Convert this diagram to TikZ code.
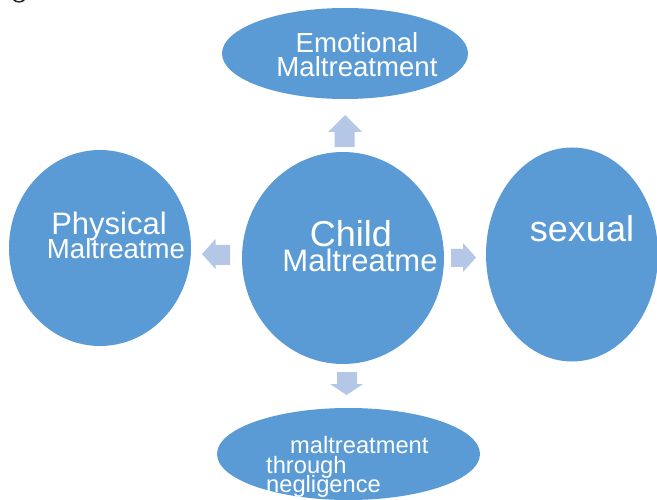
\documentclass[tikz,border=0pt]{standalone}
\usepackage{fontspec}
\setmainfont{Liberation Sans}
\usetikzlibrary{shapes.geometric}
\definecolor{bubble}{HTML}{5B9BD5}
\definecolor{pointer}{HTML}{B4C7E7}
\begin{document}
\begin{tikzpicture}[x=1pt,y=-1pt,
  bubble/.style={ellipse,fill=bubble,draw=none,inner sep=0pt},
  lbl/.style={text=white,inner sep=0pt,anchor=base},
  lblw/.style={text=white,inner sep=0pt,anchor=base west},
  pointer/.style={fill=pointer,draw=none}]
\useasboundingbox (0,0) rectangle (657,500);
\fill[white] (0,0) rectangle (657,500);

% stray glyph fragment at the top edge
\fill[black!85] (13,0) .. controls (15,3.5) and (23,3.5) .. (25,0) -- (22.5,0) .. controls (21,1.6) and (17,1.6) .. (15.5,0) -- cycle;

% bubbles
\node[bubble,minimum width=202pt,minimum height=212pt] (centre) at (343,258) {};
\node[bubble,minimum width=246pt,minimum height=91pt] (emo) at (345,53.5) {};
\node[bubble,minimum width=182pt,minimum height=196pt] (phys) at (100,248) {};
\node[bubble,minimum width=172pt,minimum height=214pt] (sex) at (572,254.5) {};
\node[bubble,minimum width=263pt,minimum height=92pt] (neg) at (348.5,454) {};

% block arrows pointing out of the centre
\coordinate (upA) at (345,115);
\fill[pointer] (328,132) -- (345,115) -- (362,132) -- (354.5,132) -- (354.5,147) -- (334.5,147) -- (334.5,132) -- cycle;
\fill[pointer] (330,384) -- (346.5,395) -- (363,384) -- (357,384) -- (357,372) -- (337,372) -- (337,384) -- cycle;
\fill[pointer] (215.5,239) -- (202,254) -- (215.5,269) -- (215.5,265) -- (230,265) -- (230,245) -- (215.5,245) -- cycle;
\fill[pointer] (463,243) -- (476,257.5) -- (463,272) -- (463,267) -- (451,267) -- (451,249) -- (463,249) -- cycle;

% labels
\node[lbl,font=\fontsize{27.6}{27.6}\selectfont] (emo1) at (357,53) {Emotional};
\node[lbl,font=\fontsize{27.6}{27.6}\selectfont] (emo2) at (357,77) {Maltreatment};
\node[lbl,font=\fontsize{36}{36}\selectfont] (c1) at (351,247) {Child};
\node[lbl,font=\fontsize{31}{31}\selectfont] (c2) at (360,272) {Maltreatme};
\node[lbl,font=\fontsize{31}{31}\selectfont] (p1) at (109,235) {Physical};
\node[lbl,font=\fontsize{27.6}{27.6}\selectfont] (p2) at (116,259) {Maltreatme};
\node[lbl,font=\fontsize{36}{36}\selectfont] (s1) at (582,242) {sexual};
\node[lblw,font=\fontsize{23.7}{23.7}\selectfont] (n1) at (290,453) {maltreatment};
\node[lblw,font=\fontsize{23.7}{23.7}\selectfont] (n2) at (266,473) {through};
\node[lblw,font=\fontsize{23.7}{23.7}\selectfont] (n3) at (266,492) {negligence};
\end{tikzpicture}
\end{document}
